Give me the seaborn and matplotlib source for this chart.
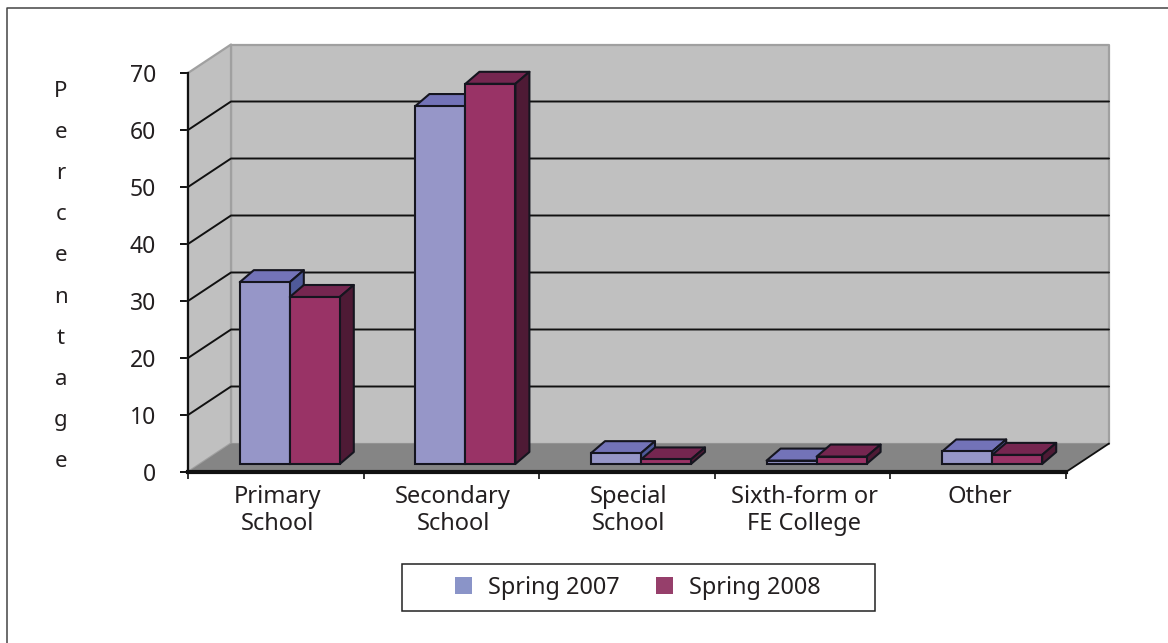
import numpy as np
import pandas as pd
import matplotlib
matplotlib.use("Agg")
import matplotlib.pyplot as plt
from matplotlib.lines import Line2D
from matplotlib.patches import Polygon, Rectangle, Patch
import seaborn as sns

categories = ["Primary\nSchool", "Secondary\nSchool", "Special\nSchool", "Sixth-form or\nFE College", "Other"]
spring_2007 = [31.9, 62.8, 1.9, 0.6, 2.2]
spring_2008 = [29.3, 66.7, 0.8, 1.3, 1.6]
y_ticks = [0, 10, 20, 30, 40, 50, 60, 70]
series_names = ["Spring 2007", "Spring 2008"]

W, H = 1168, 643
sns.set_theme(style="white")
plt.rcParams["font.family"] = ["Noto Sans", "DejaVu Sans"]
TXT = "#231f20"

fig = plt.figure(figsize=(W / 100, H / 100), dpi=100, facecolor="white")
L, R, T, B = 188, 1066, 73, 472
ax = fig.add_axes([L / W, 1 - B / H, (R - L) / W, (B - T) / H])
ax.patch.set_alpha(0)

df = pd.DataFrame({
    "category": categories * 2,
    "value": spring_2007 + spring_2008,
    "series": [series_names[0]] * 5 + [series_names[1]] * 5,
})
front = ["#9696c8", "#993366"]
top_c = ["#7373b8", "#752650"]
side_c = ["#4f5a9a", "#4e1a35"]

sns.barplot(data=df, x="category", y="value", hue="series", palette=front, saturation=1,
            width=100 / 175.6, gap=0, dodge=True, edgecolor="#15151f", linewidth=1.5,
            legend=False, ax=ax, zorder=5)
ax.set_xlim(-0.5, 4.5)
ax.set_ylim(0, 70)
ax.set_xlabel("")
ax.set_ylabel("")

ux = 5 / (R - L)          # data units per pixel, x
uy = 70 / (B - T)         # data units per pixel, y
wall_dx, wall_dy = 43 * ux, 28.5 * uy
bar_sx, bar_sy = 14 * ux, 8 * uy
dep_x, dep_y = 14 * ux, 12 * uy
x0, x1, y1 = -0.5, 4.5, 70


def poly(pts, fc, ec="none", lw=0, z=1):
    ax.add_patch(Polygon(pts, closed=True, facecolor=fc, edgecolor=ec, linewidth=lw,
                         zorder=z, clip_on=False, joinstyle="round"))


# walls and floor
poly([(x0 + wall_dx, wall_dy), (x1 + wall_dx, wall_dy), (x1 + wall_dx, y1 + wall_dy), (x0 + wall_dx, y1 + wall_dy)],
     "#c0c0c0", ec="#a0a0a0", lw=1.6, z=1)
poly([(x0, 0), (x0 + wall_dx, wall_dy), (x0 + wall_dx, y1 + wall_dy), (x0, y1)], "#c0c0c0", ec="#a0a0a0", lw=1.6, z=1)
poly([(x0, 0), (x1, 0), (x1 + wall_dx, wall_dy), (x0 + wall_dx, wall_dy)], "#858585", z=1.5)
ax.plot([x1, x1 + wall_dx], [0, wall_dy], color="#111111", lw=1.3, zorder=1.6, clip_on=False)

# gridlines on back and left walls
for v in y_ticks[1:-1]:
    ax.plot([x0, x0 + wall_dx, x1 + wall_dx], [v, v + wall_dy, v + wall_dy],
            color="#111111", lw=1.4, zorder=2, clip_on=False)

# bars: lift the seaborn rectangles onto the floor and add depth faces
z = 5.0
bars = [p for p in ax.patches if isinstance(p, Rectangle)]
bars = [b for b in bars if b.get_width() < 1]
n = len(categories)
for s in range(2):
    for i, b in enumerate(bars[s * n:(s + 1) * n]):
        b.set_x(b.get_x() + bar_sx)
        b.set_y(bar_sy)
        b.set_clip_on(False)
        xa, xb = b.get_x(), b.get_x() + b.get_width()
        ya, yb = b.get_y(), b.get_y() + b.get_height()
        poly([(xa, yb), (xb, yb), (xb + dep_x, yb + dep_y), (xa + dep_x, yb + dep_y)],
             top_c[s], ec="#15151f", lw=1.5, z=z + 0.1 + s)
        poly([(xb, ya), (xb + dep_x, ya + dep_y), (xb + dep_x, yb + dep_y), (xb, yb)],
             side_c[s], ec="#15151f", lw=1.5, z=z + 0.1 + s)
        b.set_zorder(z + 0.2 + s)

# axes styling
sns.despine(ax=ax, top=True, right=True)
for sp in ("left", "bottom"):
    ax.spines[sp].set_color("#111111")
    ax.spines[sp].set_zorder(4)
ax.spines["left"].set_linewidth(1.6)
ax.spines["bottom"].set_linewidth(3)
ax.set_yticks(y_ticks)
ax.set_yticklabels([str(v) for v in y_ticks])
ax.tick_params(axis="y", length=6, width=1.4, color="#111111", pad=17, labelsize=16.5, labelcolor=TXT, left=True)
ax.set_xticks(np.arange(-0.5, 5, 1))
ax.set_xticklabels([""] * 6)
ax.tick_params(axis="x", which="major", length=5.2, width=1.4, color="#333333", bottom=True)
ax.set_xticks(np.arange(5) + 0.01, minor=True)
ax.set_xticklabels(categories, minor=True, fontsize=17, color=TXT, linespacing=1.15)
ax.tick_params(axis="x", which="minor", length=0, pad=9.5)

# vertical axis title
fig.text(61 / W, 1 - 276.5 / H, "\n".join("Percentage"), fontsize=16, color=TXT,
         ha="center", va="center", linespacing=2.254)

# legend box and frameless legend
fig.add_artist(Rectangle((402 / W, 1 - 611 / H), (875 - 402) / W, (611 - 564) / H, transform=fig.transFigure,
                         facecolor="white", edgecolor="#222222", linewidth=1.1))
handles = [Patch(facecolor=c, edgecolor="none") for c in ("#8a94c8", "#963f6b")]
fig.legend(handles, series_names, loc="center", bbox_to_anchor=(638 / W, 1 - 588 / H),
           ncol=2, frameon=False, fontsize=16.9, labelcolor=TXT, handlelength=0.73, handleheight=0.73,
           handletextpad=0.68, columnspacing=1.56, borderpad=0, borderaxespad=0)

# outer frame: only the top and left rules fall inside the picture
fig.add_artist(Line2D([7 / W, 7 / W, 1], [0, 1 - 7.5 / H, 1 - 7.5 / H], transform=fig.transFigure,
                      color="#444444", linewidth=1.1))

fig.savefig("out.png", dpi=100, facecolor="white")
